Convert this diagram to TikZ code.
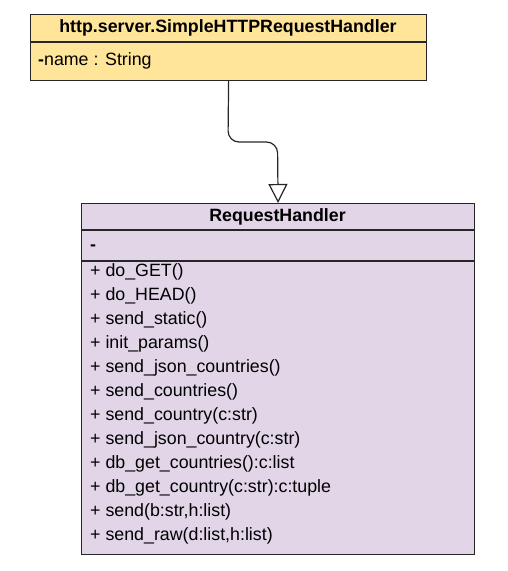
\documentclass[tikz,border=0pt]{standalone}
\usepackage{fontspec}
\setmainfont{Liberation Sans}
\usetikzlibrary{arrows.meta}
\begin{document}
\begin{tikzpicture}[x=1pt,y=-1pt,
  box/.style={draw=black!85, line width=1.2pt, rectangle, inner sep=0pt, anchor=north west},
  sep/.style={draw=black!85, line width=1.2pt},
  title/.style={font=\fontsize{17.8}{20}\selectfont\bfseries, inner sep=0pt},
  item/.style={font=\fontsize{17.8}{20}\selectfont, inner sep=0pt, anchor=west},
  conn/.style={draw=black!85, line width=1.2pt, rounded corners=11pt, -{Triangle[open, width=19pt, length=19pt, fill=white]}}
]
\useasboundingbox (0,0) rectangle (508,571);
% superclass
\node[box, fill={rgb,255:red,255;green,229;blue,153}, minimum width=396pt, minimum height=66pt] (top) at (30,14) {};
\draw[sep] (30,42) -- (426,42);
\node[title] (toptitle) at (228,28) {http.server.SimpleHTTPRequestHandler};
\node[item] (topattr) at (38,61) {{\bfseries-}name : String};
% subclass
\node[box, fill={rgb,255:red,225;green,213;blue,231}, minimum width=393pt, minimum height=351pt] (bot) at (81,203) {};
\draw[sep] (81,230) -- (474,230);
\draw[sep] (81,261) -- (474,261);
\node[title] (bottitle) at (277.5,216.5) {RequestHandler};
\node[item] (botattr) at (90,248) {\bfseries -};
\foreach \t [count=\i from 0] in {%
  + do\_GET(),%
  + do\_HEAD(),%
  + send\_static(),%
  + init\_params(),%
  + send\_json\_countries(),%
  + send\_countries(),%
  + send\_country(c:str),%
  + send\_json\_country(c:str),%
  + db\_get\_countries():c:list,%
  + db\_get\_country(c:str):c:tuple,%
  + send(b:str{,}h:list),%
  + send\_raw(d:list{,}h:list)}
  \node[item] (m\i) at (90,272+24*\i) {\t};
% generalization
\draw[conn] (top.south) -- (228,142) -- (277.5,142) -- (bot.north);
\end{tikzpicture}
\end{document}
